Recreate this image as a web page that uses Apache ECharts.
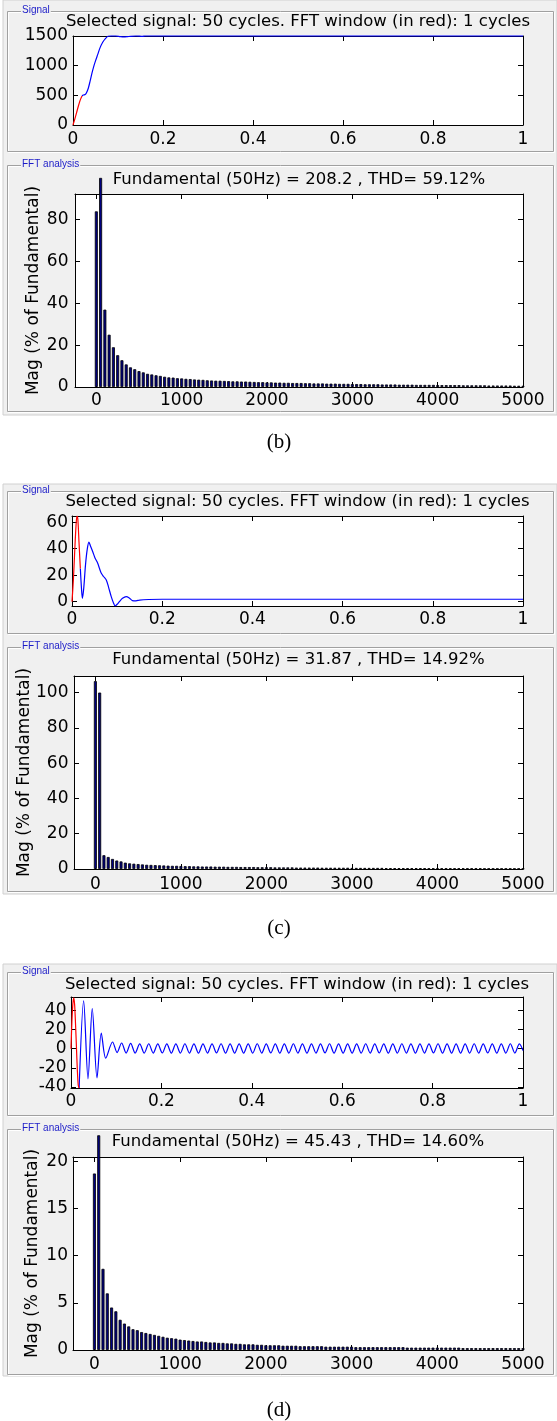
<!DOCTYPE html>
<html><head><meta charset="utf-8">
<script src="https://cdn.jsdelivr.net/npm/echarts@6/dist/echarts.min.js"></script>
<style>html,body{margin:0;padding:0;background:#fff}#c{width:557px;height:1421px}</style>
</head><body><div id="c"></div>
<script>
// ---------------- data ----------------
const sigXTicks = [0, 0.2, 0.4, 0.6, 0.8, 1];
const fftXTicks = [0, 1000, 2000, 3000, 4000, 5000];
const sigYTicksB = [0, 500, 1000, 1500];
const sigYTicksC = [0, 20, 40, 60];
const sigYTicksD = [-40, -20, 0, 20, 40];
const fftYTicksB = [0, 20, 40, 60, 80];
const fftYTicksC = [0, 20, 40, 60, 80, 100];
const fftYTicksD = [0, 5, 10, 15, 20];

const sigXRange = [0, 1];
const fftXRange = [-250, 5000];
const sigYRangeB = [0, 1500];
const sigYRangeC = [-3.3, 64.7];
const sigYRangeD = [-41, 54];
const fftYRangeB = [0, 92.3];
const fftYRangeC = [0, 109.4];
const fftYRangeD = [0, 20.45];

const sigTitle = 'Selected signal: 50 cycles. FFT window (in red): 1 cycles';
const fftTitles = ['Fundamental (50Hz) = 208.2 , THD= 59.12%',
                   'Fundamental (50Hz) = 31.87 , THD= 14.92%',
                   'Fundamental (50Hz) = 45.43 , THD= 14.60%'];
const captions = ['(b)', '(c)', '(d)'];
const boxLabels = ['Signal', 'FFT analysis'];
const fftYName = 'Mag (% of Fundamental)';
const fundamentalHz = 50;

// signal (b)
const sigBRedT = [0, 0.004, 0.008, 0.012, 0.016, 0.020];
const sigBRedV = [0, 100, 210, 320, 420, 490];
const sigBBlueT = [0.020, 0.023, 0.027, 0.030, 0.034, 0.038, 0.042, 0.046, 0.050, 0.055, 0.060, 0.066, 0.072, 0.078, 0.085, 0.095, 0.105, 0.112, 0.120, 0.128, 0.140, 0.155, 0.160, 0.200, 0.400, 0.600, 0.800, 1.000];
const sigBBlueV = [490, 505, 515, 545, 620, 740, 870, 985, 1080, 1190, 1300, 1395, 1455, 1495, 1500, 1500, 1490, 1485, 1488, 1495, 1500, 1494, 1500, 1500, 1500, 1500, 1500, 1500];

// signal (c)
const sigCRedT = [0, 0.003, 0.006, 0.009, 0.011, 0.013, 0.0155, 0.0185];
const sigCRedV = [0, 16, 38, 58, 64.7, 62, 45, 25];
const sigCBlueT = [0.0185, 0.021, 0.023, 0.026, 0.030, 0.034, 0.0375, 0.041, 0.046, 0.051, 0.057, 0.061, 0.065, 0.070, 0.076, 0.081, 0.087, 0.092, 0.0956, 0.100, 0.105, 0.112, 0.120, 0.127, 0.134, 0.142, 0.150, 0.170, 0.200, 0.400, 0.600, 0.800, 1.000];
const sigCBlueV = [25, 10, 2.5, 10, 28, 40, 45, 42, 37.7, 33, 29, 25, 21.4, 19, 16.4, 11, 3.8, -1, -3.2, -2, 0, 2.5, 3.8, 2.8, 0.8, 0.6, 1.2, 1.6, 1.8, 1.8, 1.8, 1.8, 1.8];

// signal (d)
const sigDRedT = [0, 0.002, 0.004, 0.006, 0.008, 0.010, 0.012, 0.014, 0.016, 0.018];
const sigDRedV = [0, 28, 46, 53, 46, 26, 2, -22, -38, -41];
const sigDBlueT = [0.018, 0.028, 0.0376, 0.047, 0.0575, 0.067, 0.0768,
  0.092,0.102,0.112,0.122,0.132,0.142,0.152,0.162,0.172,0.182,
  0.192,0.202,0.212,0.222,0.232,0.242,0.252,0.262,0.272,0.282,
  0.292,0.302,0.312,0.322,0.332,0.342,0.352,0.362,0.372,0.382,
  0.392,0.402,0.412,0.422,0.432,0.442,0.452,0.462,0.472,0.482,
  0.492,0.502,0.512,0.522,0.532,0.542,0.552,0.562,0.572,0.582,
  0.592,0.602,0.612,0.622,0.632,0.642,0.652,0.662,0.672,0.682,
  0.692,0.702,0.712,0.722,0.732,0.742,0.752,0.762,0.772,0.782,
  0.792,0.802,0.812,0.822,0.832,0.842,0.852,0.862,0.872,0.882,
  0.892,0.902,0.912,0.922,0.932,0.942,0.952,0.962,0.972,0.982,
  0.992,1.000];
const sigDBlueV = [-41, 50, -31.5, 42, -30.5, 16.4, -9.9,
  7,-4,6,-4.5,5.5,-4.5,5,-4.6,5.2,-4.5,
  5,-4.4,5.1,-4.6,5,-4.5,5.2,-4.5,5,-4.6,
  5.1,-4.5,5,-4.4,5.2,-4.6,5,-4.5,5.1,-4.5,
  5,-4.6,5.2,-4.5,5,-4.4,5.1,-4.6,5,-4.5,
  5.2,-4.5,5,-4.6,5.1,-4.5,5,-4.4,5.2,-4.6,
  5,-4.5,5.1,-4.5,5,-4.6,5.2,-4.5,5,-4.4,
  5.1,-4.6,5,-4.5,5.2,-4.5,5,-4.6,5.1,-4.5,
  5,-4.4,5.2,-4.6,5,-4.5,5.1,-4.5,5,-4.6,
  5.2,-4.5,5,-4.4,5.1,-4.6,5,-4.5,5.2,-4.5,
  5,-2];

// FFT magnitudes (% of fundamental), harmonic order 0..100 (x 50 Hz)
const fftB = [84, 100, 37, 25, 19, 15.2, 12.8, 10.8, 9.4, 8.5,
  7.6, 7.0, 6.3, 6.0, 5.6, 5.3, 4.9, 4.6, 4.5, 4.2,
  4.1, 3.9, 3.8, 3.6, 3.5, 3.4, 3.2, 3.1, 3.0, 3.0,
  2.9, 2.8, 2.7, 2.7, 2.6, 2.6, 2.5, 2.4, 2.3, 2.3,
  2.2, 2.2, 2.1, 2.1, 2.0, 2.0, 1.9, 1.9, 1.9, 1.8,
  1.8, 1.7, 1.7, 1.7, 1.6, 1.6, 1.6, 1.5, 1.5, 1.5,
  1.4, 1.4, 1.4, 1.3, 1.3, 1.3, 1.3, 1.2, 1.2, 1.2,
  1.2, 1.1, 1.1, 1.1, 1.1, 1.0, 1.0, 1.0, 1.0, 1.0,
  0.9, 0.9, 0.9, 0.9, 0.9, 0.9, 0.8, 0.8, 0.8, 0.8,
  0.8, 0.8, 0.7, 0.7, 0.7, 0.7, 0.7, 0.7, 0.6, 0.6,
  0.6];
const fftC = [106.5, 100, 7.8, 6.8, 5.7, 4.8, 4.3, 3.6, 3.2, 3.0,
  2.8, 2.6, 2.4, 2.3, 2.2, 2.1, 2.0, 1.9, 1.8, 1.8,
  1.7, 1.6, 1.6, 1.5, 1.5, 1.4, 1.4, 1.4, 1.3, 1.3,
  1.3, 1.2, 1.2, 1.2, 1.1, 1.1, 1.1, 1.1, 1.0, 1.0,
  1.0, 1.0, 0.9, 0.9, 0.9, 0.9, 0.9, 0.8, 0.8, 0.8,
  0.8, 0.8, 0.8, 0.7, 0.7, 0.7, 0.7, 0.7, 0.7, 0.7,
  0.6, 0.6, 0.6, 0.6, 0.6, 0.6, 0.6, 0.6, 0.5, 0.5,
  0.5, 0.5, 0.5, 0.5, 0.5, 0.5, 0.5, 0.5, 0.4, 0.4,
  0.4, 0.4, 0.4, 0.4, 0.4, 0.4, 0.4, 0.4, 0.4, 0.4,
  0.4, 0.3, 0.3, 0.3, 0.3, 0.3, 0.3, 0.3, 0.3, 0.3,
  0.3];
const fftD = [18.7, 100, 8.6, 6.0, 4.5, 4.1, 3.2, 2.8, 2.5, 2.2,
  2.1, 1.9, 1.8, 1.7, 1.6, 1.5, 1.4, 1.3, 1.25, 1.2,
  1.1, 1.05, 1.0, 0.95, 0.9, 0.9, 0.85, 0.8, 0.8, 0.75,
  0.75, 0.7, 0.7, 0.65, 0.65, 0.6, 0.6, 0.6, 0.55, 0.55,
  0.5, 0.5, 0.5, 0.5, 0.45, 0.45, 0.45, 0.45, 0.4, 0.4,
  0.4, 0.4, 0.4, 0.4, 0.35, 0.35, 0.35, 0.35, 0.35, 0.35,
  0.35, 0.3, 0.3, 0.3, 0.3, 0.3, 0.3, 0.3, 0.3, 0.3,
  0.3, 0.3, 0.3, 0.25, 0.25, 0.25, 0.25, 0.25, 0.25, 0.25,
  0.25, 0.25, 0.25, 0.25, 0.25, 0.25, 0.2, 0.2, 0.2, 0.2,
  0.2, 0.2, 0.2, 0.2, 0.2, 0.2, 0.2, 0.2, 0.2, 0.2,
  0.2];
// in (d) the fundamental bar is cut off by the figure at this height
const fftDVisibleTop = 22.75;

// ---------------- layout ----------------
const FONT = 'DejaVu Sans';
const panels = [
  { sigR:[73,36,523,125], fftR:[75,194,523,387], sigTitleY:22, fftTitleY:179.5,
    sigXM:6.5, fftXM:5, sigYM:5, fftYM:6.5, nameGap:33, clipSig:false,
    bg:[3,0,554,415], sigBox:[7,11,546,140], fftBox:[7,165,546,246], cap:[279,442],
    sigYR:sigYRangeB, sigYT:sigYTicksB, fftYR:fftYRangeB, fftYT:fftYTicksB,
    red:[sigBRedT,sigBRedV], blue:[sigBBlueT,sigBBlueV], mags:fftB, top:Infinity },
  { sigR:[72,516,523,606], fftR:[74,676,523,869], sigTitleY:501.5, fftTitleY:660,
    sigXM:5.5, fftXM:7, sigYM:4, fftYM:5.5, nameGap:40.5, clipSig:true,
    bg:[3,484,554,410], sigBox:[7,491,546,142], fftBox:[7,647,546,244], cap:[279,928],
    sigYR:sigYRangeC, sigYT:sigYTicksC, fftYR:fftYRangeC, fftYT:fftYTicksC,
    red:[sigCRedT,sigCRedV], blue:[sigCBlueT,sigCBlueV], mags:fftC, top:Infinity },
  { sigR:[71,997,523,1088], fftR:[73,1157,523,1350], sigTitleY:984.5, fftTitleY:1142,
    sigXM:5.5, fftXM:6.5, sigYM:4.5, fftYM:5, nameGap:31.5, clipSig:true,
    bg:[3,964,554,412], sigBox:[7,972,546,143], fftBox:[7,1129,546,245], cap:[279,1410],
    sigYR:sigYRangeD, sigYT:sigYTicksD, fftYR:fftYRangeD, fftYT:fftYTicksD,
    red:[sigDRedT,sigDRedV], blue:[sigDBlueT,sigDBlueV], mags:fftD, top:fftDVisibleTop }
];

const grids = [], xAxes = [], yAxes = [], series = [], gfx = [];
const zip = (a, b) => a.map((v, i) => [v, b[i]]);
const lineStyle = { show:true, onZero:false, lineStyle:{ color:'#000', width:1 } };
const tickOf = vals => ({ show:true, inside:true, length:5, customValues:vals, lineStyle:{ color:'#000', width:1 } });
const labOf = (vals, m) => ({ show:true, customValues:vals, margin:m, color:'#000', fontFamily:FONT, fontSize:17, formatter: v => String(v) });

function addGrid(r, xr, xt, xm, yr, yt, ym, yname, ngap) {
  const gi = grids.length;
  grids.push({ left:r[0], top:r[1], width:r[2]-r[0], height:r[3]-r[1], show:true, backgroundColor:'#fff', borderWidth:0 });
  xAxes.push({ type:'value', gridIndex:gi, position:'bottom', min:xr[0], max:xr[1], axisLine:lineStyle, axisTick:tickOf(xt), axisLabel:labOf(xt, xm), splitLine:{show:false} });
  xAxes.push({ type:'value', gridIndex:gi, position:'top', min:xr[0], max:xr[1], axisLine:lineStyle, axisTick:tickOf(xt), axisLabel:{show:false}, splitLine:{show:false} });
  const yl = { type:'value', gridIndex:gi, position:'left', min:yr[0], max:yr[1], axisLine:lineStyle, axisTick:tickOf(yt), axisLabel:labOf(yt, ym), splitLine:{show:false} };
  if (yname) Object.assign(yl, { name:yname, nameLocation:'middle', nameGap:ngap, nameMoveOverlap:false, nameTextStyle:{ fontFamily:FONT, fontSize:17, color:'#000' } });
  yAxes.push(yl);
  yAxes.push({ type:'value', gridIndex:gi, position:'right', min:yr[0], max:yr[1], axisLine:lineStyle, axisTick:tickOf(yt), axisLabel:{show:false}, splitLine:{show:false} });
  return gi;
}

function box(b, label) {
  gfx.push({ type:'rect', z:-5, shape:{ x:b[0]+1.5, y:b[1]+1.5, width:b[2], height:b[3] }, style:{ fill:'none', stroke:'#ffffff', lineWidth:1 } });
  gfx.push({ type:'rect', z:-4, shape:{ x:b[0]+0.5, y:b[1]+0.5, width:b[2], height:b[3] }, style:{ fill:'none', stroke:'#a0a0a0', lineWidth:1 } });
  gfx.push({ type:'text', z:-3, x:b[0]+14, y:b[1]-1, style:{ text:label, fill:'#1c1cc8', font:'10px "Liberation Sans"', align:'left', verticalAlign:'middle', textAlign:'left', textVerticalAlign:'middle', backgroundColor:'#f0f0f0', padding:[0,1] } });
}

panels.forEach((p, k) => {
  gfx.push({ type:'rect', z:-10, shape:{ x:p.bg[0], y:p.bg[1], width:p.bg[2], height:p.bg[3] }, style:{ fill:'#f0f0f0', stroke:'#d0d0d0', lineWidth:1 } });
  box(p.sigBox, boxLabels[0]);
  box(p.fftBox, boxLabels[1]);
  const cx = (p.sigR[0] + p.sigR[2]) / 2;
  gfx.push({ type:'text', x:cx, y:p.sigTitleY, style:{ text:sigTitle, fill:'#000', font:'16.5px "DejaVu Sans"', align:'center', verticalAlign:'middle', textAlign:'center', textVerticalAlign:'middle' } });
  const fx = (p.fftR[0] + p.fftR[2]) / 2;
  gfx.push({ type:'text', x:fx, y:p.fftTitleY, style:{ text:fftTitles[k], fill:'#000', font:'16.5px "DejaVu Sans"', align:'center', verticalAlign:'middle', textAlign:'center', textVerticalAlign:'middle' } });
  gfx.push({ type:'text', x:p.cap[0], y:p.cap[1], style:{ text:captions[k], fill:'#000', font:'21px "Liberation Serif"', align:'center', verticalAlign:'middle', textAlign:'center', textVerticalAlign:'middle' } });

  const gs = addGrid(p.sigR, sigXRange, sigXTicks, p.sigXM, p.sigYR, p.sigYT, p.sigYM, null, 0);
  series.push({ type:'line', xAxisIndex:2*gs, yAxisIndex:2*gs, data:zip(p.blue[0], p.blue[1]), showSymbol:false, symbol:'none', smooth:0.3, clip:p.clipSig, lineStyle:{ color:'#0000ff', width:1.2 }, z:3 });
  series.push({ type:'line', xAxisIndex:2*gs, yAxisIndex:2*gs, data:zip(p.red[0], p.red[1]), showSymbol:false, symbol:'none', smooth:0.3, clip:p.clipSig, lineStyle:{ color:'#ff0000', width:1.2 }, z:4 });

  const gf = addGrid(p.fftR, fftXRange, fftXTicks, p.fftXM, p.fftYR, p.fftYT, p.fftYM, fftYName, p.nameGap);
  series.push({ type:'bar', xAxisIndex:2*gf, yAxisIndex:2*gf, barWidth:3, clip:false,
    data:p.mags.map((v, i) => [i * fundamentalHz, Math.min(v, p.top)]),
    itemStyle:{ color:'#000080', borderColor:'#000', borderWidth:0.8 }, z:3 });
});

const chart = echarts.init(document.getElementById('c'), null, { renderer:'canvas' });
chart.setOption({
  animation:false,
  backgroundColor:'#fff',
  textStyle:{ fontFamily:FONT },
  grid:grids, xAxis:xAxes, yAxis:yAxes, series:series,
  graphic:{ elements:gfx }
});
</script></body></html>
